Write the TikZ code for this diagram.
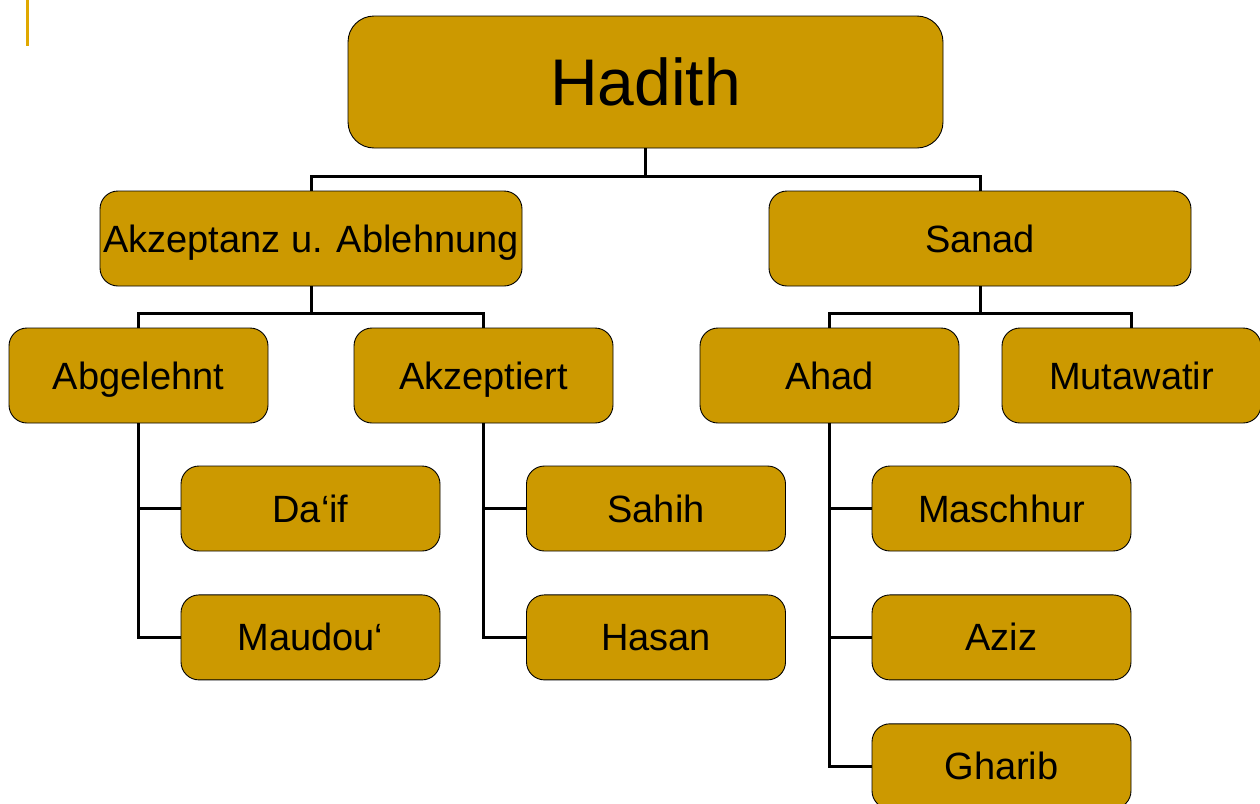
\documentclass[tikz,border=0pt]{standalone}
\usepackage{fontspec}
\setmainfont{Liberation Sans}
\usetikzlibrary{positioning}
\definecolor{hadithgold}{HTML}{CC9900}
\definecolor{markgold}{HTML}{E0A800}

\begin{document}
\begin{tikzpicture}[
    x=1pt, y=-1pt,
    node distance=43pt and 43pt,
    box/.style={
        rectangle, draw=black, fill=hadithgold, line width=0.9pt,
        rounded corners=18pt, minimum width=259pt, minimum height=85pt,
        inner sep=0pt, text centered, text height=27pt, text depth=0pt,
        font=\fontsize{38}{40}\selectfont
    },
    wide/.style={box, minimum width=422pt, minimum height=95pt},
    root/.style={box, rounded corners=26pt, minimum width=595pt,
        minimum height=132pt, text height=47pt,
        font=\fontsize{66}{68}\selectfont},
    link/.style={line width=3pt, black}
]
    \useasboundingbox (0,0) rectangle (1260,803);

    %% --- Top mark ---
    \draw[markgold, line width=3pt] (27.5,0) -- (27.5,46);

    %% --- Root and main branches ---
    \node[root] (hadith) at (645.5,82) {Hadith};
    \node[wide] (akz) at (311,238.5) {Akzeptanz u. Ablehnung};
    \node[wide] (sanad) at (980,238.5) {Sanad};

    %% --- Second level ---
    \node[box, minimum height=95pt] (abg) at (138.5,375.5) {Abgelehnt};
    \node[box, minimum height=95pt] (akzt) at (483.5,375.5) {Akzeptiert};
    \node[box, minimum height=95pt] (ahad) at (829.5,375.5) {Ahad};
    \node[box, minimum height=95pt] (mut) at (1131.5,375.5) {Mutawatir};

    %% --- Leaves ---
    \node[box] (daif) at (310.5,508.5) {Da‘if};
    \node[box, below=of daif] (maudou) {Maudou‘};
    \node[box] (sahih) at (656,508.5) {Sahih};
    \node[box, below=of sahih] (hasan) {Hasan};
    \node[box] (masch) at (1001.5,508.5) {Maschhur};
    \node[box, below=of masch] (aziz) {Aziz};
    \node[box, below=of aziz] (gharib) {Gharib};

    %% --- Connectors ---
    \draw[link] (hadith.south) -- ++(0,28) -| (akz.north);
    \draw[link] (hadith.south) -- ++(0,28) -| (sanad.north);
    \draw[link] (akz.south) -- ++(0,27) -| (abg.north);
    \draw[link] (akz.south) -- ++(0,27) -| (akzt.north);
    \draw[link] (sanad.south) -- ++(0,27) -| (ahad.north);
    \draw[link] (sanad.south) -- ++(0,27) -| (mut.north);
    \draw[link] (abg.south) |- (daif.west);
    \draw[link] (abg.south) |- (maudou.west);
    \draw[link] (akzt.south) |- (sahih.west);
    \draw[link] (akzt.south) |- (hasan.west);
    \draw[link] (ahad.south) |- (masch.west);
    \draw[link] (ahad.south) |- (aziz.west);
    \draw[link] (ahad.south) |- (gharib.west);
\end{tikzpicture}
\end{document}
